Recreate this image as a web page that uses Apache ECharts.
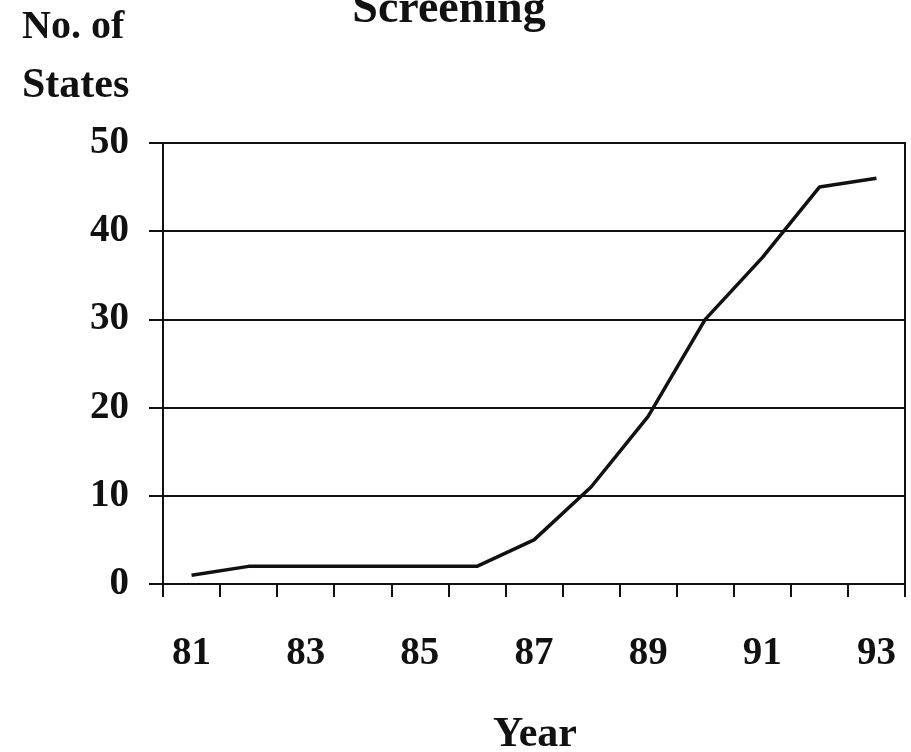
<!DOCTYPE html>
<html>
<head>
<meta charset="utf-8">
<script src="https://cdn.jsdelivr.net/npm/echarts@6/dist/echarts.min.js"></script>
<style>
  html, body { margin: 0; padding: 0; background: #fff; }
  #chart { width: 911px; height: 752px; }
</style>
</head>
<body>
<div id="chart"></div>
<script>
// values
var years = ['81', '82', '83', '84', '85', '86', '87', '88', '89', '90', '91', '92', '93'];
var states = [1, 2, 2, 2, 2, 2, 5, 11, 19, 30, 37, 45, 46];
var yTicks = [0, 10, 20, 30, 40, 50];

var serif = '"Liberation Serif", "Times New Roman", serif';
var myChart = echarts.init(document.getElementById('chart'));

var option = {
    backgroundColor: '#fff',
    animation: false,
    grid: {
        left: 163,
        right: 6,
        top: 143,
        bottom: 168,
        show: true,
        borderColor: '#111',
        borderWidth: 2
    },
    graphic: [
        { type: 'text', style: { text: 'Screening', x: 449, y: 10, fontSize: 46, fontWeight: 'bold', fontFamily: serif, fill: '#111', textAlign: 'center', textVerticalAlign: 'middle' } },
        { type: 'text', style: { text: 'No. of', x: 22, y: 28, fontSize: 40, fontWeight: 'bold', fontFamily: serif, fill: '#111', textAlign: 'left', textVerticalAlign: 'middle' } },
        { type: 'text', style: { text: 'States', x: 22, y: 86, fontSize: 42, fontWeight: 'bold', fontFamily: serif, fill: '#111', textAlign: 'left', textVerticalAlign: 'middle' } },
        { type: 'text', style: { text: 'Year', x: 535, y: 735, fontSize: 42, fontWeight: 'bold', fontFamily: serif, fill: '#111', textAlign: 'center', textVerticalAlign: 'middle' } }
    ],
    xAxis: {
        type: 'category',
        data: years,
        boundaryGap: true,
        axisLine: { lineStyle: { color: '#111', width: 2 } },
        axisTick: { show: true, interval: 0, length: 13, lineStyle: { color: '#111', width: 2 } },
        axisLabel: {
            interval: 1,
            margin: 50,
            color: '#111',
            fontSize: 39,
            fontWeight: 'bold',
            fontFamily: serif
        }
    },
    yAxis: {
        type: 'value',
        min: yTicks[0],
        max: yTicks[yTicks.length - 1],
        interval: 10,
        axisLine: { show: true, lineStyle: { color: '#111', width: 2 } },
        axisTick: { show: true, length: 14, lineStyle: { color: '#111', width: 2 } },
        axisLabel: {
            margin: 34,
            color: '#111',
            fontSize: 39,
            fontWeight: 'bold',
            fontFamily: serif
        },
        splitLine: { lineStyle: { color: '#111', width: 2 } }
    },
    series: [{
        type: 'line',
        data: states,
        symbol: 'none',
        lineStyle: { color: '#111', width: 3.5 }
    }]
};
myChart.setOption(option);
</script>
</body>
</html>
